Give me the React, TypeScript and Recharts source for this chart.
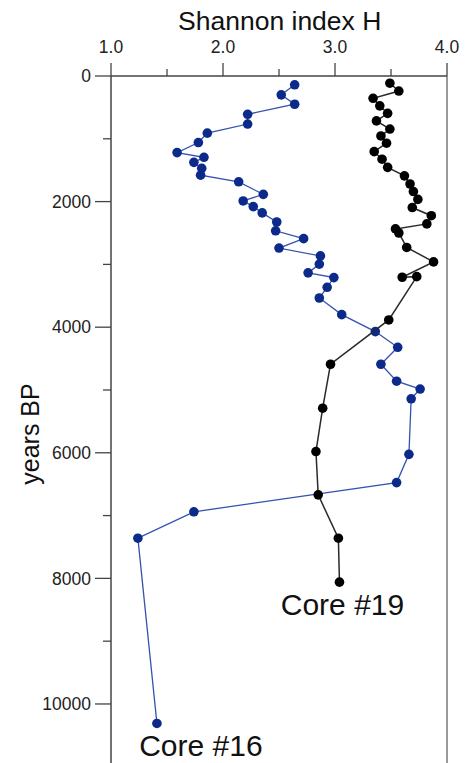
import React from "react";
import {
  ScatterChart,
  Scatter,
  XAxis,
  YAxis,
  ReferenceLine,
  ReferenceDot,
} from "recharts";

// Core #16 (blue) – years BP and Shannon H, top to bottom
const years16 = [140, 300, 450, 610, 765, 910, 1060, 1220, 1295, 1375, 1470, 1580, 1685, 1885, 1990, 2080, 2180, 2325, 2465, 2590, 2740, 2865, 2995, 3135, 3210, 3365, 3535, 3800, 4070, 4320, 4590, 4860, 4985, 5140, 6025, 6475, 6940, 7360, 10310];
const h16 = [2.64, 2.52, 2.64, 2.22, 2.22, 1.86, 1.78, 1.59, 1.83, 1.74, 1.81, 1.8, 2.14, 2.36, 2.18, 2.27, 2.35, 2.48, 2.47, 2.72, 2.5, 2.87, 2.86, 2.76, 2.99, 2.93, 2.86, 3.06, 3.36, 3.56, 3.41, 3.55, 3.76, 3.68, 3.66, 3.55, 1.74, 1.24, 1.41];

// Core #19 (black)
const years19 = [115, 240, 355, 475, 595, 715, 845, 955, 1070, 1205, 1325, 1455, 1590, 1720, 1840, 1965, 2095, 2225, 2355, 2435, 2500, 2730, 2960, 3205, 3195, 3885, 4590, 5290, 5980, 6670, 7360, 8060];
const h19 = [3.49, 3.57, 3.34, 3.4, 3.47, 3.37, 3.49, 3.41, 3.46, 3.35, 3.42, 3.47, 3.62, 3.67, 3.7, 3.74, 3.69, 3.86, 3.82, 3.54, 3.57, 3.64, 3.88, 3.6, 3.73, 3.48, 2.96, 2.89, 2.83, 2.85, 3.03, 3.04];

const hTicks = [1, 1.5, 2, 2.5, 3, 3.5, 4];
const yearTicks = [0, 1000, 2000, 3000, 4000, 5000, 6000, 7000, 8000, 9000, 10000];

const core16 = years16.map((t, i) => ({ h: h16[i], t }));
const core19 = years19.map((t, i) => ({ h: h19[i], t }));
const last16 = core16[core16.length - 1];
const last19 = core19[core19.length - 1];

const FONT = "'Liberation Sans', Arial, sans-serif";
const BLUE = "#0c2a8a";
const BLUE_LINE = "#3552b0";

const HTick = (props: any) => {
  const { x, y, payload } = props;
  const major = Number.isInteger(payload.value);
  return (
    <g>
      <line x1={x} x2={x} y1={y} y2={y - (major ? 13 : 7)} stroke="#444" strokeWidth={1.3} />
      {major && (
        <text x={x} y={y - 23} textAnchor="middle" fontSize={17.5} fontFamily={FONT} fill="#222">
          {payload.value.toFixed(1)}
        </text>
      )}
    </g>
  );
};

const YearTick = (props: any) => {
  const { x, y, payload } = props;
  const major = payload.value % 2000 === 0;
  return (
    <g>
      <line x1={x} x2={x - (major ? 16 : 8)} y1={y} y2={y} stroke="#444" strokeWidth={1.3} />
      {major && (
        <text x={x - 20} y={y} dy="0.35em" textAnchor="end" fontSize={17.5} fontFamily={FONT} fill="#222">
          {payload.value}
        </text>
      )}
    </g>
  );
};

const dot = (fill: string) => (p: any) => <circle cx={p.cx} cy={p.cy} r={4.8} fill={fill} />;

const coreLabel = (text: string, dx: number) => (p: any) => {
  const vb = p.viewBox;
  const cx = vb.x + vb.width / 2;
  const cy = vb.y + vb.height / 2;
  return (
    <text x={cx + dx} y={cy + 33} textAnchor="middle" fontSize={30} fontFamily={FONT} fill="#111">
      {text}
    </text>
  );
};

export default function App() {
  return (
    <div style={{ position: "absolute", left: 0, top: 0, background: "#fff" }}>
      <ScatterChart width={468} height={763} margin={{ top: 0, right: 21, bottom: 0, left: 0 }}>
        <XAxis
          xAxisId={0}
          type="number"
          dataKey="h"
          orientation="top"
          domain={[1, 4]}
          ticks={hTicks}
          interval={0}
          height={76}
          tickSize={0}
          tickMargin={0}
          tickLine={false}
          axisLine={{ stroke: "#444", strokeWidth: 1.5 }}
          tick={<HTick />}
        />
        <YAxis
          yAxisId={0}
          type="number"
          dataKey="t"
          reversed
          domain={[0, 10940]}
          allowDataOverflow
          ticks={yearTicks}
          interval={0}
          width={111}
          tickSize={0}
          tickMargin={0}
          tickLine={false}
          axisLine={{ stroke: "#444", strokeWidth: 1.5 }}
          tick={<YearTick />}
        />
        <ReferenceLine x={4} stroke="#777" strokeWidth={1.5} />
        <Scatter
          data={core16}
          line={{ stroke: BLUE_LINE, strokeWidth: 1.3 }}
          shape={dot(BLUE)}
          isAnimationActive={false}
        />
        <Scatter
          data={core19}
          line={{ stroke: "#2a2a2a", strokeWidth: 1.5 }}
          shape={dot("#000")}
          isAnimationActive={false}
        />
        <ReferenceDot x={last19.h} y={last19.t} r={1} fill="none" stroke="none" label={coreLabel("Core #19", 3)} />
        <ReferenceDot x={last16.h} y={last16.t} r={1} fill="none" stroke="none" label={coreLabel("Core #16", 44)} />
        <text x={279.7} y={30} textAnchor="middle" fontSize={26.5} fontFamily={FONT} fill="#111">
          Shannon index H
        </text>
        <text
          transform="translate(39,434) rotate(-90)"
          textAnchor="middle"
          fontSize={25}
          fontFamily={FONT}
          fill="#111"
        >
          years BP
        </text>
      </ScatterChart>
    </div>
  );
}
